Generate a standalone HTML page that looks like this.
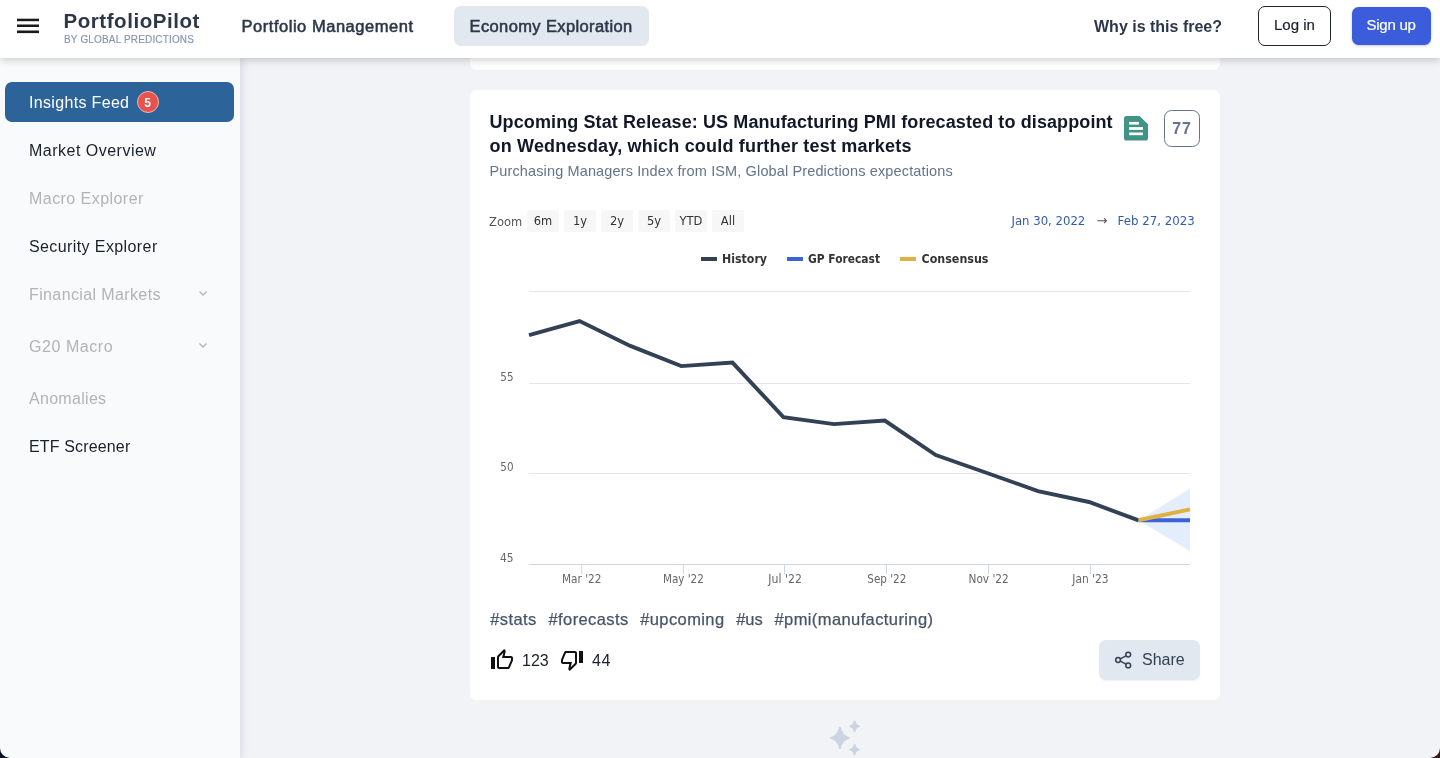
<!DOCTYPE html>
<html lang="en">
<head>
<meta charset="utf-8">
<title>PortfolioPilot - Economy Exploration</title>
<style>
*{box-sizing:border-box;margin:0;padding:0}
html,body{width:1440px;height:758px;overflow:hidden;background:#f1f3f7;font-family:"Liberation Sans",sans-serif;color:#1a202c}
.abs{position:absolute}
#hdr{position:absolute;left:0;top:0;width:1440px;height:58px;background:#fff;box-shadow:0 2px 8px rgba(0,0,0,.2);z-index:10}
#side{position:absolute;left:0;top:58px;width:239.500px;height:700px;background:#f9fafb;box-shadow:2px 0 8px rgba(30,40,70,.12);z-index:5}
.t{position:absolute;white-space:nowrap;line-height:1}
.logo{left:63.500px;top:10.500px;font-size:20.500px;font-weight:700;color:#2d3748;letter-spacing:.55px}
.sub{left:64px;top:35px;font-size:10px;color:#8595b2;letter-spacing:.16px;-webkit-text-stroke:.15px #8595b2}
.nav{font-size:16px;font-weight:700;color:#2d3748;top:18.500px}
.semi{font-weight:400;-webkit-text-stroke:.55px #2d3748}
.pill{position:absolute;left:454px;top:6px;width:195px;height:40px;border-radius:7px;background:#e2e8f0}
.btn-login{position:absolute;left:1258px;top:6px;width:72.500px;height:40px;border:1.200px solid #1f2430;border-radius:7px;background:#fff}
.btn-sign{position:absolute;left:1351.800px;top:7.300px;width:79.200px;height:37.700px;border-radius:6.500px;background:#3b5ddc;box-shadow:0 1px 3px rgba(0,0,0,.2)}
.si{position:absolute;left:29px;font-size:16px;white-space:nowrap;line-height:1;color:#1a202c;letter-spacing:.3px}
.si.g{color:#b3b3b3}
.active{position:absolute;left:5px;top:24px;width:229px;height:40px;border-radius:7px;background:#2c6499}
.card{position:absolute;left:470px;top:90.400px;width:750px;height:609.500px;background:#fff;border-radius:6.500px}
.prev{position:absolute;left:470px;top:-20px;width:750px;height:90.200px;background:#fff;border-radius:6.500px}
.ttl{position:absolute;left:489.500px;top:110px;font-size:18px;font-weight:700;line-height:24px;color:#111827;white-space:nowrap;letter-spacing:.12px}
.tag{top:611px;font-size:16.500px;color:#475569;letter-spacing:.4px;-webkit-text-stroke:.25px #475569}
.cht{font-family:"DejaVu Sans","Liberation Sans",sans-serif}
.zb{position:absolute;top:210px;width:32px;height:22px;background:#f7f7f7;border-radius:2px;font-size:11.500px;color:#333;text-align:center;line-height:23.800px}
</style>
</head>
<body>
<!-- main content -->
<div class="prev"></div>
<div class="card"></div>

<div class="ttl"><span style="letter-spacing:.105px">Upcoming Stat Release: US Manufacturing PMI forecasted to disappoint</span><br><span style="letter-spacing:.19px">on Wednesday, which could further test markets</span></div>
<div class="t" id="subtitle" style="left:489.500px;top:164px;font-size:14.500px;color:#64748b;letter-spacing:.13px">Purchasing Managers Index from ISM, Global Predictions expectations</div>

<!-- doc icon -->
<svg class="abs" style="left:1124px;top:116px" width="24" height="25" viewBox="0 0 24 25"><path d="M2.600 0H15.500L24 8.300V22a2.600 2.600 0 0 1-2.600 2.600H2.600A2.600 2.600 0 0 1 0 22V2.600A2.600 2.600 0 0 1 2.600 0z" fill="#409385"/><rect x="5.100" y="5.900" width="9.800" height="2.700" fill="#fff"/><rect x="5.100" y="11.100" width="13.800" height="2.800" fill="#fff"/><rect x="5.100" y="16.500" width="13.800" height="2.700" fill="#fff"/></svg>
<div class="abs" style="left:1164px;top:110.300px;width:36px;height:36.400px;border:1px solid #64748b;border-radius:7.500px"></div>
<div class="t" id="n77" style="left:1172.300px;top:120.700px;font-size:16px;font-weight:700;color:#64748b;letter-spacing:.9px">77</div>

<!-- zoom row -->
<div class="t cht" id="zoom" style="left:489px;top:216.700px;font-size:11.500px;color:#555">Zoom</div>
<div class="zb cht" style="left:527px">6m</div>
<div class="zb cht" style="left:564px">1y</div>
<div class="zb cht" style="left:601px">2y</div>
<div class="zb cht" style="left:638px">5y</div>
<div class="zb cht" style="left:675px">YTD</div>
<div class="zb cht" style="left:712px">All</div>
<div class="t cht" id="d1" style="left:1011.500px;top:215.600px;font-size:11.700px;color:#335cad">Jan 30, 2022</div>
<div class="t cht" style="left:1096.500px;top:213.500px;font-size:13px;color:#555">→</div>
<div class="t cht" id="d2" style="left:1117.500px;top:215.600px;font-size:11.800px;color:#335cad">Feb 27, 2023</div>

<!-- chart -->
<svg class="abs" style="left:470px;top:240px" width="750" height="360" viewBox="470 240 750 360" font-family="'DejaVu Sans','Liberation Sans',sans-serif">
  <g stroke="#e6e6e6" stroke-width="1">
    <line x1="529" x2="1190" y1="291.500" y2="291.500"/>
    <line x1="529" x2="1190" y1="383.500" y2="383.500"/>
    <line x1="529" x2="1190" y1="473.500" y2="473.500"/>
  </g>
  <line x1="529" x2="1190" y1="564.500" y2="564.500" stroke="#ccd6eb"/>
  <g stroke="#ccd6eb" stroke-width="1">
    <line x1="581.700" x2="581.700" y1="564" y2="574"/><line x1="683.400" x2="683.400" y1="564" y2="574"/><line x1="784.500" x2="784.500" y1="564" y2="574"/><line x1="886.500" x2="886.500" y1="564" y2="574"/><line x1="988.400" x2="988.400" y1="564" y2="574"/><line x1="1090.400" x2="1090.400" y1="564" y2="574"/>
  </g>
  <polygon points="1138.600,520.300 1190,488.500 1190,551" fill="#dbe7fb" fill-opacity=".75"/>
  <polyline fill="none" stroke="#334155" stroke-width="3.900" stroke-linejoin="miter" stroke-linecap="butt" points="529,335.200 579.600,321.100 630.300,345.900 681.300,366.100 732.500,362.600 783.400,417.100 833.900,424.100 884.800,420.600 935.800,455 987,473 1038,491.100 1089,502 1138.600,520.300"/>
  <line x1="1138.600" y1="520.300" x2="1190" y2="520.300" stroke="#3b63d9" stroke-width="4"/>
  <line x1="1138.600" y1="520.300" x2="1190" y2="509.400" stroke="#e0b040" stroke-width="4"/>
  <g font-size="11.500" fill="#666" lengthAdjust="spacingAndGlyphs">
    <text x="500.300" y="381.200" textLength="13.300" lengthAdjust="spacingAndGlyphs">55</text><text x="500.300" y="471.200" textLength="13.300" lengthAdjust="spacingAndGlyphs">50</text><text x="500" y="561.900" textLength="13.600" lengthAdjust="spacingAndGlyphs">45</text>
  </g>
  <g font-size="11.500" fill="#666">
    <text x="562" y="582.900" textLength="39.500" lengthAdjust="spacingAndGlyphs">Mar '22</text><text x="663" y="582.900" textLength="40.800" lengthAdjust="spacingAndGlyphs">May '22</text><text x="768.300" y="582.900" textLength="33.600" lengthAdjust="spacingAndGlyphs">Jul '22</text><text x="867.300" y="582.900" textLength="39" lengthAdjust="spacingAndGlyphs">Sep '22</text><text x="968.500" y="582.900" textLength="40.300" lengthAdjust="spacingAndGlyphs">Nov '22</text><text x="1072.300" y="582.900" textLength="36.200" lengthAdjust="spacingAndGlyphs">Jan '23</text>
  </g>
  <!-- legend -->
  <line x1="701" x2="717" y1="259" y2="259" stroke="#334155" stroke-width="4"/>
  <line x1="787" x2="803" y1="259" y2="259" stroke="#3b63d9" stroke-width="4"/>
  <line x1="900" x2="916" y1="259" y2="259" stroke="#e0b040" stroke-width="4"/>
  <g font-size="11.500" font-weight="bold" fill="#333">
    <text x="722" y="263" textLength="45" lengthAdjust="spacingAndGlyphs">History</text><text x="808" y="263" textLength="72" lengthAdjust="spacingAndGlyphs">GP Forecast</text><text x="921.500" y="263" textLength="67" lengthAdjust="spacingAndGlyphs">Consensus</text>
  </g>
</svg>

<!-- tags -->
<div class="t tag" id="tag0" style="left:490.2px">#stats</div>
<div class="t tag" id="tag1" style="left:548.5px">#forecasts</div>
<div class="t tag" id="tag2" style="left:640.2px">#upcoming</div>
<div class="t tag" id="tag3" style="letter-spacing:0;left:736.2px">#us</div>
<div class="t tag" id="tag4" style="left:774.5px">#pmi(manufacturing)</div>

<!-- likes -->
<svg class="abs" style="left:490px;top:648px" width="24" height="24" viewBox="0 0 24 24"><path fill="#111" d="M9 21h9c.830 0 1.540-.500 1.840-1.220l3.020-7.050c.090-.230.140-.470.140-.730v-2c0-1.100-.900-2-2-2h-6.310l.950-4.570.030-.320c0-.410-.170-.790-.440-1.060L14.170 1 7.580 7.590C7.220 7.950 7 8.450 7 9v10c0 1.100.900 2 2 2zM9 9l4.340-4.340L12 10h9v2l-3 7H9V9zM1 9h4v12H1z"/></svg>
<div class="t" id="n123" style="left:522px;top:652.600px;font-size:16px;color:#1a202c">123</div>
<svg class="abs" style="left:560px;top:648px" width="24" height="24" viewBox="0 0 24 24"><path fill="#111" d="M15 3H6c-.830 0-1.540.500-1.840 1.220l-3.020 7.050c-.090.230-.140.470-.140.730v2c0 1.100.900 2 2 2h6.310l-.950 4.570-.030.320c0 .410.170.790.440 1.060L9.830 23l6.590-6.590c.360-.360.580-.860.580-1.410V5c0-1.100-.900-2-2-2zm0 12l-4.340 4.340L12 14H3v-2l3-7h9v10zm4-12h4v12h-4z"/></svg>
<div class="t" id="n44" style="letter-spacing:.6px;left:592px;top:652.600px;font-size:16px;color:#1a202c">44</div>

<!-- share -->
<div class="abs" style="left:1099px;top:640px;width:101px;height:40px;border-radius:7px;background:#e2e8f0;box-shadow:0 1px 2px rgba(0,0,0,.06)"></div>
<svg class="abs" style="left:1110px;top:648px" width="24" height="24" viewBox="1110 648 24 24" fill="none" stroke="#334155" stroke-width="1.500" stroke-linecap="round"><circle cx="1118.100" cy="660" r="2.400"/><circle cx="1128.200" cy="654.600" r="2.400"/><circle cx="1128.200" cy="665.400" r="2.400"/><line x1="1120.300" y1="658.800" x2="1126" y2="655.800"/><line x1="1120.300" y1="661.200" x2="1126" y2="664.200"/></svg>
<div class="t" id="share" style="left:1142px;top:652px;font-size:16px;color:#334155">Share</div>

<!-- sparkle -->
<svg class="abs" style="left:820px;top:710px" width="50" height="48" viewBox="820 710 50 48"><g fill="#ccd4e2" stroke="#ccd4e2" stroke-width="2" stroke-linejoin="round"><path d="M839.90 727.70 Q841.60 736.20 848.90 737.90 Q841.60 739.60 839.90 748.10 Q838.20 739.60 830.90 737.90 Q838.20 736.20 839.90 727.70z"/><path d="M854.60 721.40 Q855.30 725.50 858.80 726.20 Q855.30 726.90 854.60 731.00 Q853.90 726.90 850.40 726.20 Q853.90 725.50 854.60 721.40z"/><path d="M854.60 744.80 Q855.30 748.90 858.80 749.60 Q855.30 750.30 854.60 754.40 Q853.90 750.30 850.40 749.60 Q853.90 748.90 854.60 744.80z"/></g></svg>

<!-- sidebar -->
<div id="side">
  <div class="active"></div>
  <div class="si" id="s1" style="letter-spacing:0.33px;top:36.6px;color:#fff">Insights Feed</div>
  <div class="abs" style="left:137px;top:33px;width:22px;height:22px;border-radius:50%;background:#e5534b;border:1px solid #f3b5b0"></div>
  <div class="t" style="left:144.300px;top:38.500px;font-size:12px;font-weight:700;color:#fff" id="n5">5</div>
  <div class="si" id="s2" style="letter-spacing:0.49px;top:84.6px">Market Overview</div>
  <div class="si g" id="s3" style="letter-spacing:0.45px;top:132.6px">Macro Explorer</div>
  <div class="si" id="s4" style="letter-spacing:0.40px;top:180.6px">Security Explorer</div>
  <div class="si g" id="s5" style="letter-spacing:0.38px;top:228.6px">Financial Markets</div>
  <div class="si g" id="s6" style="letter-spacing:0.55px;top:280.6px">G20 Macro</div>
  <div class="si g" id="s7" style="letter-spacing:0.30px;top:332.6px">Anomalies</div>
  <div class="si" id="s8" style="letter-spacing:0.15px;top:380.6px">ETF Screener</div>
  <svg class="abs" style="left:198px;top:230px" width="10" height="10" viewBox="0 0 10 10" fill="none" stroke="#b3b3b3" stroke-width="1.300"><path d="M1.500 3.500 L5 7 L8.500 3.500"/></svg>
  <svg class="abs" style="left:198px;top:282px" width="10" height="10" viewBox="0 0 10 10" fill="none" stroke="#b3b3b3" stroke-width="1.300"><path d="M1.500 3.500 L5 7 L8.500 3.500"/></svg>
</div>

<!-- header -->
<div id="hdr">
  <svg class="abs" style="left:17px;top:18px" width="22" height="16" viewBox="0 0 22 16"><rect x="0" y="0.700" width="22" height="2.500" fill="#1a1a1a"/><rect x="0" y="6.500" width="22" height="2.500" fill="#1a1a1a"/><rect x="0" y="12.500" width="22" height="2.600" fill="#1a1a1a"/></svg>
  <div class="t logo" id="logo">PortfolioPilot</div>
  <div class="t sub" id="sub">BY GLOBAL PREDICTIONS</div>
  <div class="t nav semi" id="nav1" style="left:241.500px;top:18.200px;font-size:16.500px;letter-spacing:.53px">Portfolio Management</div>
  <div class="pill"></div>
  <div class="t nav semi" id="nav2" style="left:469.500px;top:18.200px;font-size:16.500px;letter-spacing:.38px">Economy Exploration</div>
  <div class="t nav" id="nav3" style="left:1094px">Why is this free?</div>
  <div class="btn-login"></div>
  <div class="t" id="login" style="left:1274px;top:17.400px;font-size:15px;color:#1a202c;-webkit-text-stroke:.2px #1a202c">Log in</div>
  <div class="btn-sign"></div>
  <div class="t" id="signup" style="left:1366.500px;top:17.400px;font-size:15px;color:#fff;letter-spacing:-.25px;-webkit-text-stroke:.2px #fff">Sign up</div>
</div>

<!-- window corners -->
<svg class="abs" style="left:0;top:748px;z-index:20" width="10" height="10" viewBox="0 0 10 10"><path d="M0 0 A10 10 0 0 0 10 10 H0z" fill="#0d1220"/></svg>
<svg class="abs" style="left:1430px;top:748px;z-index:20" width="10" height="10" viewBox="0 0 10 10"><path d="M10 0 A10 10 0 0 1 0 10 H10z" fill="#3a1611"/></svg>
</body>
</html>
